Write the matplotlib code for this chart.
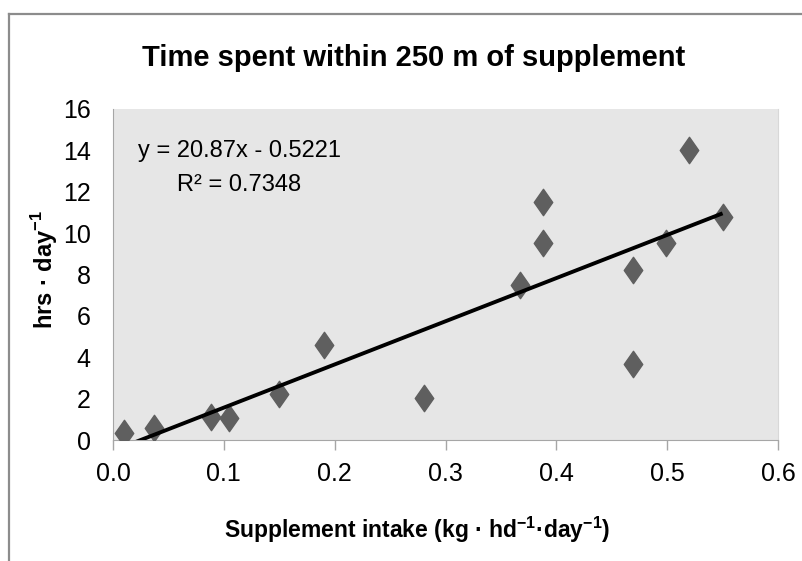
import numpy as np
import matplotlib
matplotlib.use('Agg')
import matplotlib.pyplot as plt
from matplotlib.path import Path
from matplotlib import font_manager

# data
intake = [0.010, 0.037, 0.088, 0.105, 0.150, 0.190, 0.281, 0.367,
          0.388, 0.388, 0.469, 0.469, 0.499, 0.520, 0.550]
hours = [0.32, 0.60, 1.13, 1.05, 2.22, 4.59, 2.01, 7.49,
         11.51, 9.50, 8.21, 3.67, 9.53, 14.0, 10.76]
slope, icept = 20.87, -0.5221
xticks = [0.0, 0.1, 0.2, 0.3, 0.4, 0.5, 0.6]
yticks = [0, 2, 4, 6, 8, 10, 12, 14, 16]

names = [f.name for f in font_manager.fontManager.ttflist]
fam = 'Liberation Sans Narrow' if 'Liberation Sans Narrow' in names else 'Liberation Sans'
plt.rcParams['font.family'] = [fam, 'DejaVu Sans']
plt.rcParams['mathtext.fontset'] = 'custom'
plt.rcParams['mathtext.rm'] = fam
plt.rcParams['mathtext.bf'] = fam + ':bold'

fig = plt.figure(figsize=(8.02, 5.61), dpi=100)
W, H = 802, 561
ax = fig.add_axes([113/W, 1-440/H, (778-113)/W, (440-109)/H])
ax.set_facecolor('#e6e6e6')

# outer chart border (top + left only visible)
fig.add_artist(plt.Line2D([9/W, 9/W], [0, 1-14/H], color='#8c8c8c', lw=1.6))
fig.add_artist(plt.Line2D([9/W, 1], [1-14/H, 1-14/H], color='#8c8c8c', lw=1.6))

diamond = Path([(0, 1), (0.7, 0), (0, -1), (-0.7, 0), (0, 1)],
               [Path.MOVETO, Path.LINETO, Path.LINETO, Path.LINETO, Path.CLOSEPOLY])
ax.plot(intake, hours, ls='none', marker=diamond, ms=19, color='#5f5f5f', zorder=3)

xs = np.array([min(intake), max(intake)])
ax.plot(xs, slope*xs + icept, color='black', lw=2.8, zorder=4, solid_capstyle='butt')

ax.set_xlim(0, 0.6)
ax.set_ylim(0, 16)
ax.set_xticks(xticks)
ax.set_xticklabels(['%.1f' % v for v in xticks])
ax.set_yticks(yticks)
ax.tick_params(axis='x', direction='out', length=7, color='#a6a6a6', width=1,
               labelsize=18, pad=9)
ax.tick_params(axis='y', length=0, labelsize=18, pad=16)
ax.spines['top'].set_visible(False)
ax.spines['right'].set_color('#d8d8d8')
ax.spines['left'].set_color('#a6a6a6')
ax.spines['bottom'].set_color('#a6a6a6')

ax.text(0.023, 13.95, 'y = 20.87x - 0.5221', fontsize=17, va='center')
ax.text(0.058, 12.35, 'R² = 0.7348', fontsize=17, va='center')

fig.text(413.5/W, 1-66/H, 'Time spent within 250 m of supplement',
         ha='center', va='baseline', fontsize=21, fontweight='bold')
fig.text(417/W, 1-530/H, r'Supplement intake (kg · hd$^{\mathbf{-1}}$·day$^{\mathbf{-1}}$)',
         ha='center', va='center', fontsize=16.5, fontweight='bold')
fig.text(45/W, 1-270/H, r'hrs · day$^{\mathbf{-1}}$', rotation=90,
         ha='center', va='center', fontsize=17, fontweight='bold')

fig.savefig('out.png', dpi=100)
